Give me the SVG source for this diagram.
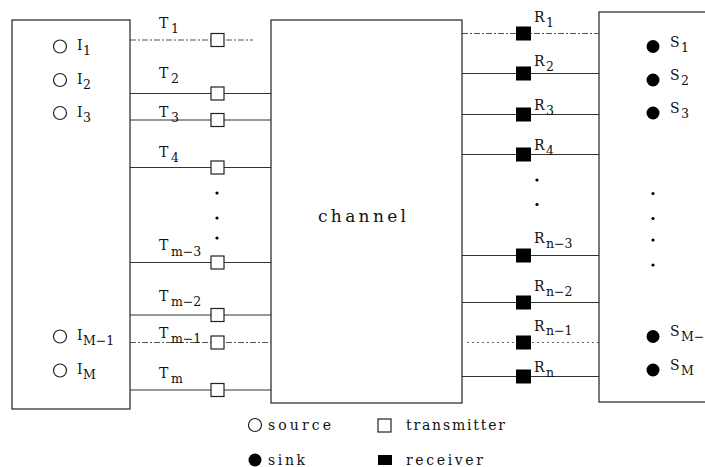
<svg xmlns="http://www.w3.org/2000/svg" width="705" height="467" viewBox="0 0 705 467">
<style>
.box{fill:#fff;stroke:#222;stroke-width:1.2}
.ln{stroke:#333;stroke-width:1;fill:none}
.dash{stroke:#555;stroke-width:1;stroke-dasharray:6 2 2 2;fill:none}
.dot{stroke:#666;stroke-width:1;stroke-dasharray:2 3;fill:none}
.tx{fill:#fff;stroke:#222;stroke-width:1.2}
.rx{fill:#000}
.src{fill:#fff;stroke:#222;stroke-width:1.2}
.snk{fill:#000}
text{font-family:"DejaVu Serif","Liberation Serif",serif;fill:#111}
.m{font-size:14px}
.s{font-size:12.5px}
.lg{font-size:14px}
</style>
<rect width="705" height="467" fill="#fff"/>
<g id="connectors">
<line class="dash" x1="130" y1="40" x2="253" y2="40"/>
<line class="ln" x1="130" y1="93.5" x2="271" y2="93.5"/>
<line class="ln" x1="130" y1="120" x2="271" y2="120"/>
<line class="ln" x1="130" y1="167.5" x2="271" y2="167.5"/>
<line class="ln" x1="130" y1="262.5" x2="271" y2="262.5"/>
<line class="ln" x1="130" y1="315" x2="271" y2="315"/>
<line class="dash" x1="130" y1="342.5" x2="271" y2="342.5"/>
<line class="ln" x1="130" y1="390" x2="271" y2="390"/>
<line class="dash" x1="462" y1="33.5" x2="599" y2="33.5"/>
<line class="ln" x1="462" y1="73.5" x2="599" y2="73.5"/>
<line class="ln" x1="462" y1="114.5" x2="599" y2="114.5"/>
<line class="ln" x1="462" y1="154.5" x2="599" y2="154.5"/>
<line class="ln" x1="462" y1="255.5" x2="599" y2="255.5"/>
<line class="ln" x1="462" y1="302.5" x2="599" y2="302.5"/>
<line class="dot" x1="467" y1="342.5" x2="599" y2="342.5"/>
<line class="ln" x1="462" y1="376.5" x2="599" y2="376.5"/>
</g>
<g id="sources-box">
<rect class="box" x="12" y="20" width="118" height="389"/>
<circle class="src" cx="60" cy="46.5" r="6.5"/>
<circle class="src" cx="60" cy="80" r="6.5"/>
<circle class="src" cx="60" cy="113" r="6.5"/>
<circle class="src" cx="60" cy="336.5" r="6.5"/>
<circle class="src" cx="60" cy="370.5" r="6.5"/>
<text class="m" x="77" y="50">I<tspan class="s" x="83" y="55">1</tspan></text>
<text class="m" x="77" y="84">I<tspan class="s" x="83" y="89">2</tspan></text>
<text class="m" x="77" y="117">I<tspan class="s" x="83" y="122">3</tspan></text>
<text class="m" x="77" y="340">I<tspan class="s" x="83" y="345">M−1</tspan></text>
<text class="m" x="77" y="374">I<tspan class="s" x="83" y="379">M</tspan></text>
</g>
<g id="transmitters">
<rect class="tx" x="211" y="33.5" width="13" height="13"/>
<rect class="tx" x="211" y="87" width="13" height="13"/>
<rect class="tx" x="211" y="113.5" width="13" height="13"/>
<rect class="tx" x="211" y="161" width="13" height="13"/>
<rect class="tx" x="211" y="256" width="13" height="13"/>
<rect class="tx" x="211" y="308.5" width="13" height="13"/>
<rect class="tx" x="211" y="336" width="13" height="13"/>
<rect class="tx" x="211" y="383.5" width="13" height="13"/>
<circle cx="217" cy="193" r="1.6" fill="#000"/>
<circle cx="217" cy="218" r="1.6" fill="#000"/>
<circle cx="217" cy="238" r="1.6" fill="#000"/>
<text class="m" x="159" y="28">T<tspan class="s" x="171" y="33">1</tspan></text>
<text class="m" x="159" y="78">T<tspan class="s" x="171" y="83">2</tspan></text>
<text class="m" x="159" y="117">T<tspan class="s" x="171" y="122">3</tspan></text>
<text class="m" x="159" y="157">T<tspan class="s" x="171" y="162">4</tspan></text>
<text class="m" x="159" y="250">T<tspan class="s" x="171" y="256">m−3</tspan></text>
<text class="m" x="159" y="301">T<tspan class="s" x="171" y="306">m−2</tspan></text>
<text class="m" x="159" y="338">T<tspan class="s" x="171" y="343">m−1</tspan></text>
<text class="m" x="159" y="378">T<tspan class="s" x="171" y="383">m</tspan></text>
</g>
<g id="channel">
<rect class="box" x="271" y="20" width="191" height="383"/>
<text x="318" y="221.5" style="font-size:17px" textLength="88" lengthAdjust="spacing">channel</text>
</g>
<g id="receivers">
<rect class="rx" x="516" y="26.5" width="15" height="14"/>
<rect class="rx" x="516" y="66.5" width="15" height="14"/>
<rect class="rx" x="516" y="107.5" width="15" height="14"/>
<rect class="rx" x="516" y="147.5" width="15" height="14"/>
<rect class="rx" x="516" y="248.5" width="15" height="14"/>
<rect class="rx" x="516" y="295.5" width="15" height="14"/>
<rect class="rx" x="516" y="335.5" width="15" height="14"/>
<rect class="rx" x="516" y="369.5" width="15" height="14"/>
<circle cx="537" cy="180" r="1.6" fill="#000"/>
<circle cx="537" cy="204.5" r="1.6" fill="#000"/>
<text class="m" x="534" y="22">R<tspan class="s" x="546" y="27">1</tspan></text>
<text class="m" x="534" y="66">R<tspan class="s" x="546" y="71">2</tspan></text>
<text class="m" x="534" y="110">R<tspan class="s" x="546" y="115">3</tspan></text>
<text class="m" x="534" y="150">R<tspan class="s" x="546" y="155">4</tspan></text>
<text class="m" x="534" y="243">R<tspan class="s" x="546" y="248">n−3</tspan></text>
<text class="m" x="534" y="291">R<tspan class="s" x="546" y="296">n−2</tspan></text>
<text class="m" x="534" y="331">R<tspan class="s" x="546" y="335">n−1</tspan></text>
<text class="m" x="534" y="372">R<tspan class="s" x="546" y="377">n</tspan></text>
</g>
<g id="sinks-box">
<rect class="box" x="599" y="12" width="120" height="390"/>
<circle class="snk" cx="653" cy="46.5" r="6.5"/>
<circle class="snk" cx="653" cy="80" r="6.5"/>
<circle class="snk" cx="653" cy="113" r="6.5"/>
<circle class="snk" cx="653" cy="336.5" r="6.5"/>
<circle class="snk" cx="653" cy="370" r="6.5"/>
<circle cx="653" cy="193.5" r="1.6" fill="#000"/>
<circle cx="653" cy="218.5" r="1.6" fill="#000"/>
<circle cx="653" cy="240" r="1.6" fill="#000"/>
<circle cx="653" cy="265" r="1.6" fill="#000"/>
<text class="m" x="670" y="47">S<tspan class="s" x="681" y="52">1</tspan></text>
<text class="m" x="670" y="80">S<tspan class="s" x="681" y="85">2</tspan></text>
<text class="m" x="670" y="113">S<tspan class="s" x="681" y="118">3</tspan></text>
<text class="m" x="670" y="336">S<tspan class="s" x="681" y="341">M−</tspan></text>
<text class="m" x="670" y="370">S<tspan class="s" x="681" y="375">M</tspan></text>
</g>
<g id="legend">
<circle class="src" cx="255" cy="425" r="6.5"/>
<text class="lg" x="268" y="430" textLength="63" lengthAdjust="spacing">source</text>
<rect class="tx" x="378" y="419" width="13" height="13"/>
<text class="lg" x="406" y="430" textLength="99" lengthAdjust="spacing">transmitter</text>
<circle class="snk" cx="255" cy="460" r="6.5"/>
<text class="lg" x="268" y="465" textLength="37" lengthAdjust="spacing">sink</text>
<rect class="rx" x="378" y="455" width="14" height="10"/>
<text class="lg" x="406" y="465" textLength="77" lengthAdjust="spacing">receiver</text>
</g>
</svg>
